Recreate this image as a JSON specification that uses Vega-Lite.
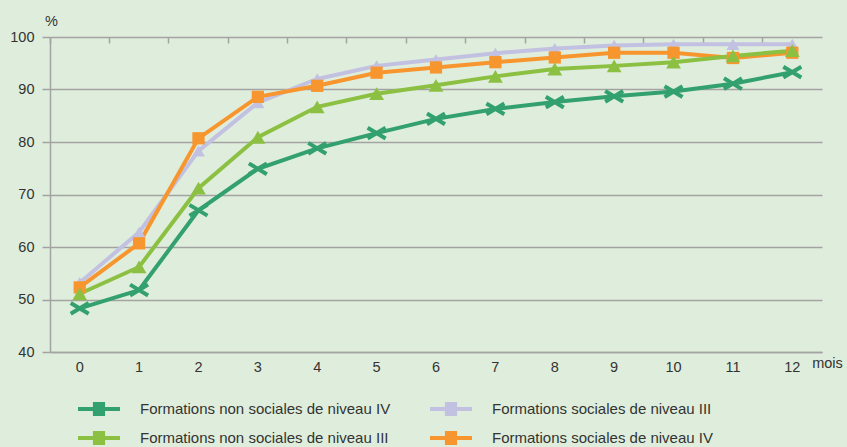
{
 "$schema": "https://vega.github.io/schema/vega-lite/v6.json",
 "width": 772, "height": 315,
 "autosize": {"type": "none"},
 "padding": {"left": 50, "top": 37, "right": 25, "bottom": 95},
 "background": "#dfeedc",
 "config": {"view": {"stroke": null}, "font": "Liberation Sans"},
 "data": {"values": [
  {"mois":0,"serie":"Formations non sociales de niveau IV","v":48.3},
  {"mois":1,"serie":"Formations non sociales de niveau IV","v":51.8},
  {"mois":2,"serie":"Formations non sociales de niveau IV","v":67.0},
  {"mois":3,"serie":"Formations non sociales de niveau IV","v":74.9},
  {"mois":4,"serie":"Formations non sociales de niveau IV","v":78.8},
  {"mois":5,"serie":"Formations non sociales de niveau IV","v":81.7},
  {"mois":6,"serie":"Formations non sociales de niveau IV","v":84.4},
  {"mois":7,"serie":"Formations non sociales de niveau IV","v":86.3},
  {"mois":8,"serie":"Formations non sociales de niveau IV","v":87.6},
  {"mois":9,"serie":"Formations non sociales de niveau IV","v":88.7},
  {"mois":10,"serie":"Formations non sociales de niveau IV","v":89.6},
  {"mois":11,"serie":"Formations non sociales de niveau IV","v":91.1},
  {"mois":12,"serie":"Formations non sociales de niveau IV","v":93.3},
  {"mois":0,"serie":"Formations sociales de niveau III","v":53.2},
  {"mois":1,"serie":"Formations sociales de niveau III","v":62.8},
  {"mois":2,"serie":"Formations sociales de niveau III","v":78.3},
  {"mois":3,"serie":"Formations sociales de niveau III","v":87.5},
  {"mois":4,"serie":"Formations sociales de niveau III","v":92.0},
  {"mois":5,"serie":"Formations sociales de niveau III","v":94.5},
  {"mois":6,"serie":"Formations sociales de niveau III","v":95.7},
  {"mois":7,"serie":"Formations sociales de niveau III","v":96.9},
  {"mois":8,"serie":"Formations sociales de niveau III","v":97.8},
  {"mois":9,"serie":"Formations sociales de niveau III","v":98.4},
  {"mois":10,"serie":"Formations sociales de niveau III","v":98.6},
  {"mois":11,"serie":"Formations sociales de niveau III","v":98.6},
  {"mois":12,"serie":"Formations sociales de niveau III","v":98.6},
  {"mois":0,"serie":"Formations sociales de niveau IV","v":52.3},
  {"mois":1,"serie":"Formations sociales de niveau IV","v":60.7},
  {"mois":2,"serie":"Formations sociales de niveau IV","v":80.7},
  {"mois":3,"serie":"Formations sociales de niveau IV","v":88.6},
  {"mois":4,"serie":"Formations sociales de niveau IV","v":90.7},
  {"mois":5,"serie":"Formations sociales de niveau IV","v":93.2},
  {"mois":6,"serie":"Formations sociales de niveau IV","v":94.2},
  {"mois":7,"serie":"Formations sociales de niveau IV","v":95.2},
  {"mois":8,"serie":"Formations sociales de niveau IV","v":96.1},
  {"mois":9,"serie":"Formations sociales de niveau IV","v":97.0},
  {"mois":10,"serie":"Formations sociales de niveau IV","v":97.0},
  {"mois":11,"serie":"Formations sociales de niveau IV","v":96.0},
  {"mois":12,"serie":"Formations sociales de niveau IV","v":97.0},
  {"mois":0,"serie":"Formations non sociales de niveau III","v":51.1},
  {"mois":1,"serie":"Formations non sociales de niveau III","v":56.2},
  {"mois":2,"serie":"Formations non sociales de niveau III","v":71.2},
  {"mois":3,"serie":"Formations non sociales de niveau III","v":80.9},
  {"mois":4,"serie":"Formations non sociales de niveau III","v":86.7},
  {"mois":5,"serie":"Formations non sociales de niveau III","v":89.2},
  {"mois":6,"serie":"Formations non sociales de niveau III","v":90.8},
  {"mois":7,"serie":"Formations non sociales de niveau III","v":92.5},
  {"mois":8,"serie":"Formations non sociales de niveau III","v":93.9},
  {"mois":9,"serie":"Formations non sociales de niveau III","v":94.5},
  {"mois":10,"serie":"Formations non sociales de niveau III","v":95.2},
  {"mois":11,"serie":"Formations non sociales de niveau III","v":96.4},
  {"mois":12,"serie":"Formations non sociales de niveau III","v":97.4}
 ]},
 "layer": [
  {
   "mark": {"type": "line", "strokeWidth": 4},
   "encoding": {
    "x": {"field": "mois", "type": "ordinal", "scale": {"type": "band", "paddingInner": 0, "paddingOuter": 0},
      "axis": {"title": "mois", "titleX": 777, "titleY": 11, "titleAlign": "center", "titleBaseline": "middle", "titleFontWeight": "normal", "titleFontSize": 14.5, "titleColor": "#333333", "labelAngle": 0, "labelFontSize": 14.5, "labelColor": "#333333", "labelPadding": 8, "ticks": false, "domainColor": "#a3a3a3", "domainWidth": 1.5, "grid": false}},
    "y": {"field": "v", "type": "quantitative", "scale": {"domain": [40, 100], "zero": false, "nice": false},
      "axis": {"title": "%", "titleAngle": 0, "titleX": 1, "titleY": -16, "titleAlign": "center", "titleBaseline": "middle", "titleFontWeight": "normal", "titleFontSize": 14.5, "titleColor": "#333333", "values": [40,50,60,70,80,90,100], "labelFontSize": 14.5, "labelColor": "#333333", "labelPadding": 8, "tickSize": 8, "tickColor": "#a3a3a3", "tickWidth": 1.5, "domainColor": "#a3a3a3", "domainWidth": 1.5, "gridColor": "#a3a3a3", "gridWidth": 1.5}},
    "color": {"field": "serie", "type": "nominal",
      "scale": {"domain": ["Formations non sociales de niveau IV", "Formations non sociales de niveau III", "Formations sociales de niveau III", "Formations sociales de niveau IV"], "range": ["#33a06f", "#8cc043", "#c2c1e1", "#f7962e"]},
      "legend": {"title": null, "orient": "none", "legendX": 28, "legendY": 351, "columns": 2, "columnPadding": 39, "rowPadding": 0,
        "symbolType": "M-1,-0.1H-0.29V-0.33H0.29V-0.1H1V0.1H0.29V0.33H-0.29V0.1H-1Z", "symbolSize": 1764, "symbolStrokeWidth": 0,
        "labelFontSize": 15, "labelColor": "#333333", "labelOffset": 20, "labelLimit": 400,
        "encode": {"symbols": {"update": {"fill": {"scale": "color", "field": "value"}, "stroke": {"value": "transparent"}, "opacity": {"value": 1}}}}}}
   }
  },
  {
   "transform": [{"filter": "datum.serie === 'Formations non sociales de niveau IV'"}],
   "mark": {"type": "point", "shape": "M-1,-0.6L1,0.6M1,-0.6L-1,0.6", "filled": false, "size": 324, "strokeWidth": 4, "color": "#33a06f", "opacity": 1},
   "encoding": {
    "x": {"field": "mois", "type": "ordinal", "axis": {"title": null, "labels": false, "domain": false, "ticks": true, "tickSize": 6, "offset": -6, "bandPosition": 0, "tickColor": "#a3a3a3", "tickWidth": 1.5, "grid": false}},
    "y": {"field": "v", "type": "quantitative"}
   }
  },
  {
   "transform": [{"filter": "datum.serie === 'Formations sociales de niveau III'"}],
   "mark": {"type": "point", "shape": "triangle-up", "filled": true, "size": 170, "color": "#c2c1e1", "opacity": 1},
   "encoding": {
    "x": {"field": "mois", "type": "ordinal", "axis": null},
    "y": {"field": "v", "type": "quantitative"}
   }
  },
  {
   "transform": [{"filter": "datum.serie === 'Formations sociales de niveau IV'"}],
   "mark": {"type": "point", "shape": "square", "filled": true, "size": 150, "color": "#f7962e", "opacity": 1},
   "encoding": {
    "x": {"field": "mois", "type": "ordinal", "axis": null},
    "y": {"field": "v", "type": "quantitative"}
   }
  },
  {
   "transform": [{"filter": "datum.serie === 'Formations non sociales de niveau III'"}],
   "mark": {"type": "point", "shape": "triangle-up", "filled": true, "size": 220, "color": "#8cc043", "opacity": 1},
   "encoding": {
    "x": {"field": "mois", "type": "ordinal", "axis": null},
    "y": {"field": "v", "type": "quantitative"}
   }
  }
 ],
 "resolve": {"axis": {"x": "independent"}}
}
